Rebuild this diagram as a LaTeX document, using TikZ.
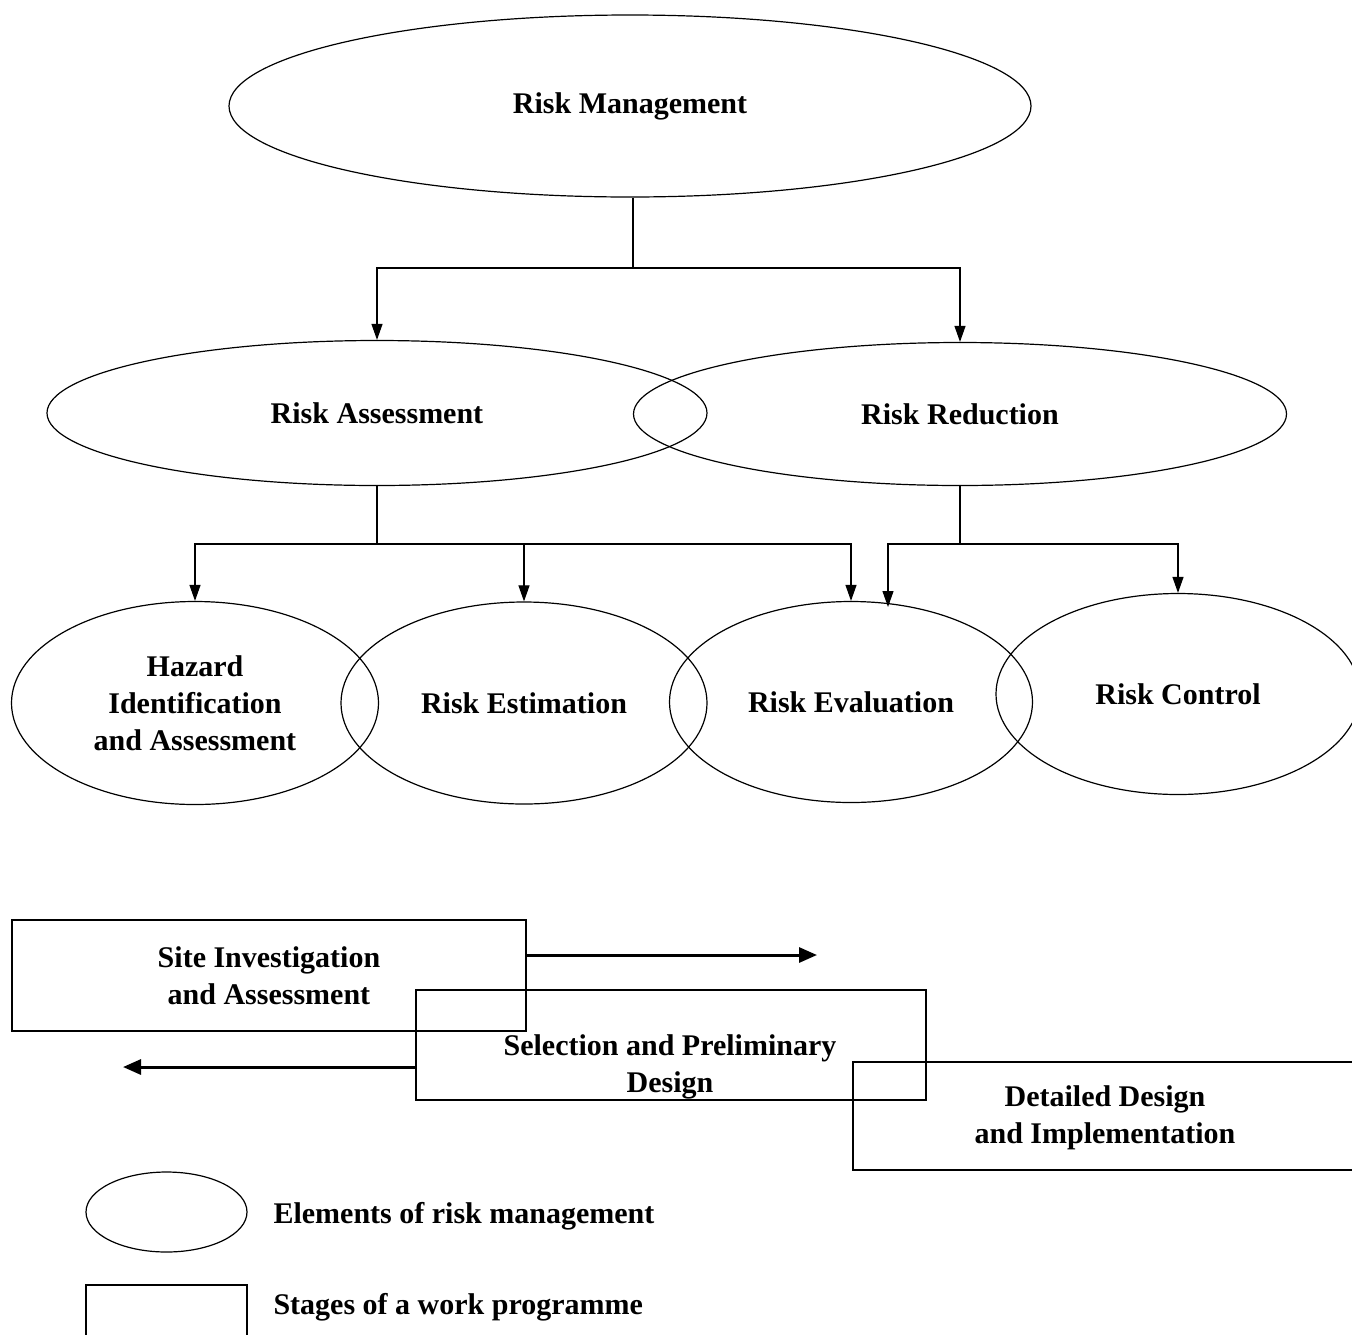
\documentclass[tikz,border=0pt]{standalone}
\usepackage{fontspec}
\setmainfont{Liberation Serif}
\usetikzlibrary{shapes.geometric,arrows.meta}
\begin{document}
\begin{tikzpicture}[x=1pt,y=-1pt,
  every node/.style={font=\fontsize{30}{37}\selectfont\bfseries, align=center},
  elem/.style={draw, ellipse, line width=1.2pt, inner sep=0pt},
  stage/.style={draw, rectangle, line width=1.2pt, inner sep=0pt},
  conn/.style={line width=1.1pt},
  arr/.style={line width=1.1pt, -{Triangle[length=16pt,width=11pt]}},
  bigarr/.style={line width=3pt, -{Triangle[length=18pt,width=15pt]}}]
\useasboundingbox (0,0) rectangle (1352,1334);

% elements
\node[elem, minimum width=802pt, minimum height=182pt] (rm) at (630,106) {Risk Management};
\node[elem, minimum width=660pt, minimum height=145pt] (ra) at (377,413) {Risk Assessment};
\node[elem, minimum width=653pt, minimum height=143pt] (rr) at (960,414) {Risk Reduction};
\node[elem, minimum width=367pt, minimum height=203pt] (hz) at (195,703) {Hazard\\Identification\\and Assessment};
\node[elem, minimum width=366pt, minimum height=202pt] (es) at (524,703) {Risk Estimation};
\node[elem, minimum width=363pt, minimum height=201pt] (ev) at (851,702) {Risk Evaluation};
\node[elem, minimum width=364pt, minimum height=201pt] (rc) at (1178,694) {Risk Control};

% connectors
\coordinate (j1) at (633,268);
\coordinate (j2) at (377,544);
\coordinate (j3) at (960,544);
\coordinate (ev2) at (888,607);
\draw[conn] (rm.south -| j1) -- (j1);
\draw[arr] (j1) -| (ra.north);
\draw[arr] (j1) -| (rr.north);
\draw[conn] (ra.south) -- (j2);
\draw[arr] (j2) -| (hz.north);
\draw[arr] (j2) -| (es.north);
\draw[arr] (j2) -| (ev.north);
\draw[conn] (rr.south) -- (j3);
\draw[arr] (j3) -| (ev2);
\draw[arr] (j3) -| (rc.north);

% stages
\node[stage, minimum width=514pt, minimum height=111pt] (si) at (269,975.5) {Site Investigation\\and Assessment};
\node[stage, minimum width=510pt, minimum height=110pt] (sp) at (671,1045) {};
\node (spt) at (670,1067) {Selection and Preliminary\\Design};
\node[stage, minimum width=507pt, minimum height=108pt] (dd) at (1106.5,1116) {};
\node (ddt) at (1105,1118) {Detailed Design\\and Implementation};

\coordinate (a1end) at (817,955);
\coordinate (a2end) at (123,1067);
\draw[bigarr] (si.east |- a1end) -- (a1end);
\draw[bigarr] (sp.west |- a2end) -- (a2end);

% legend
\node[elem, minimum width=161pt, minimum height=80pt] (le) at (166.5,1212) {};
\node[anchor=west] (let) at (270,1216) {Elements of risk management};
\node[stage, minimum width=161pt, minimum height=60pt] (ls) at (166.5,1315) {};
\node[anchor=west] (lst) at (270,1307) {Stages of a work programme};
\end{tikzpicture}
\end{document}
